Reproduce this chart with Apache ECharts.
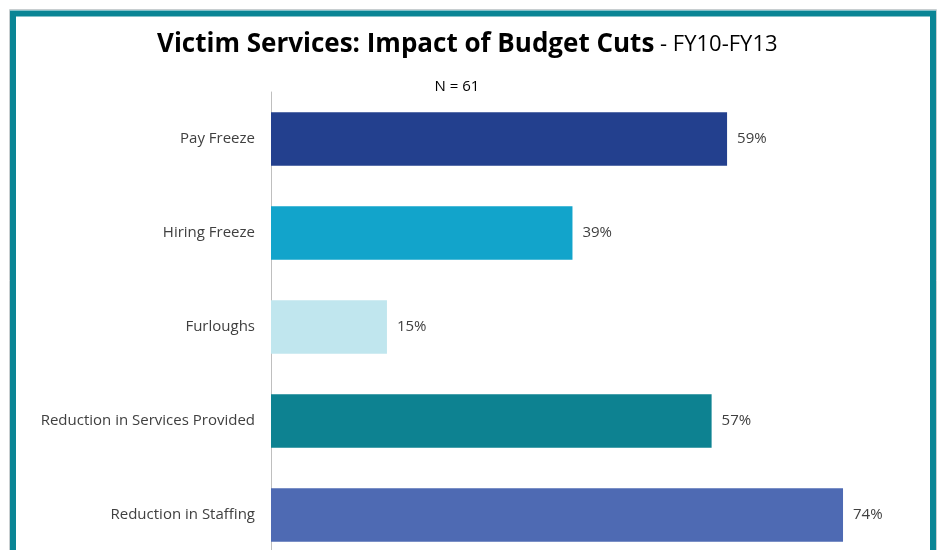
<!DOCTYPE html>
<html>
<head>
<meta charset="utf-8">
<script src="https://cdn.jsdelivr.net/npm/echarts@6/dist/echarts.min.js"></script>
<style>
  html, body { margin: 0; padding: 0; background: #fff; }
  #chart { width: 938px; height: 550px; }
</style>
</head>
<body>
<div id="chart"></div>
<script>
// Share of agencies reporting each budget-cut impact (percent)
const categories = ['Pay Freeze', 'Hiring Freeze', 'Furloughs', 'Reduction in Services Provided', 'Reduction in Staffing'];
const values = [59, 39, 15, 57, 74];
const barColors = ['#23408E', '#12A4CB', '#C0E6EE', '#0D8291', '#4E6AB3'];

const font = '"Open Sans", "Noto Sans", sans-serif';

const chart = echarts.init(document.getElementById('chart'), null, { renderer: 'canvas' });

chart.setOption({
  animation: false,
  backgroundColor: '#ffffff',
  graphic: [
    {
      type: 'rect',
      shape: { x: 9.5, y: 9.5, width: 927, height: 560 },
      style: { fill: 'none', stroke: '#C8CED0', lineWidth: 1 }
    },
    {
      type: 'rect',
      shape: { x: 13, y: 13.5, width: 920, height: 560 },
      style: { fill: 'none', stroke: '#0A8595', lineWidth: 6 }
    }
  ],
  title: [
    {
      text: '{b|Victim Services: Impact of Budget Cuts}{n| - FY10-FY13}',
      left: 152,
      top: 27,
      textAlign: 'left',
      textStyle: {
        rich: {
          b: { fontFamily: font, fontWeight: 'bold', fontSize: 26, color: '#000000' },
          n: { fontFamily: font, fontWeight: 'normal', fontSize: 22, color: '#000000' }
        }
      }
    },
    {
      text: 'N = 61',
      left: 452,
      top: 74,
      textAlign: 'center',
      textStyle: { fontFamily: font, fontWeight: 'normal', fontSize: 15, color: '#000000' }
    }
  ],
  grid: {
    left: 271,
    top: 92,
    width: 618.4,
    height: 470,
    outerBoundsMode: 'none',
    containLabel: false
  },
  xAxis: {
    type: 'value',
    min: 0,
    max: 80,
    show: false
  },
  yAxis: {
    type: 'category',
    data: categories,
    inverse: true,
    axisLine: { show: true, lineStyle: { color: '#BFBFBF', width: 1 } },
    axisTick: { show: false },
    axisLabel: {
      fontFamily: font,
      fontSize: 15,
      color: '#404040',
      margin: 16
    },
    splitLine: { show: false }
  },
  series: [
    {
      type: 'bar',
      barWidth: '57%',
      data: values.map((v, i) => ({ value: v, itemStyle: { color: barColors[i] } })),
      label: {
        show: true,
        position: 'right',
        distance: 10,
        formatter: p => p.value + '%',
        fontFamily: font,
        fontSize: 15,
        color: '#404040'
      }
    }
  ]
});
</script>
</body>
</html>
